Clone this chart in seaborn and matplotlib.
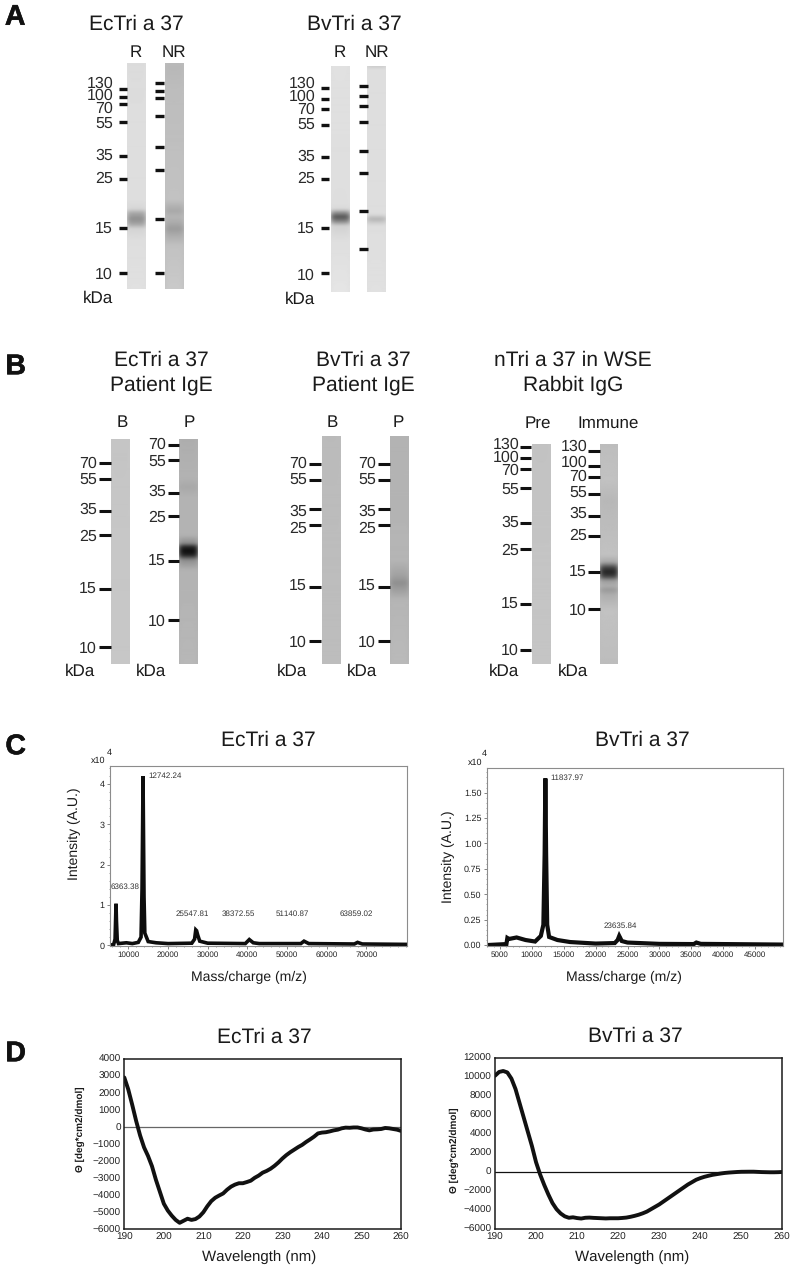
import numpy as np
import pandas as pd
import seaborn as sns
import matplotlib
matplotlib.use('Agg')
import matplotlib.pyplot as plt
import matplotlib.patheffects as pe
from matplotlib.ticker import MultipleLocator

sns.set_theme(style='white')
plt.rcParams['font.family'] = ['Liberation Sans', 'DejaVu Sans']
plt.rcParams['text.hinting'] = 'no_hinting'
plt.rcParams['text.hinting_factor'] = 1

W, H = 794, 1268

# molecular weight labels
kda_long = ['130', '100', '70', '55', '35', '25', '15', '10']
kda_short = ['70', '55', '35', '25', '15', '10']

# ladder rows (image rows)
a1_r_marks = [88.7, 97.3, 104, 122, 155.7, 178.7, 228.3, 273]
a1_r_text = [83.3, 96, 108.7, 123.3, 155.7, 178.3, 228.3, 274.3]
a1_nr_marks = [82.7, 91.3, 98, 116, 147, 170, 219.3, 273]
a2_r_marks = [88, 98.7, 108.7, 125.3, 157, 179, 227.7, 273.3]
a2_r_text = [84, 96.7, 109.3, 124.7, 157, 179, 228.7, 275.3]
a2_nr_marks = [85.7, 96, 106, 121.7, 151, 172.7, 210.7, 248.7]

b1_marks = [463.3, 478.7, 511.3, 535.3, 589.3, 647]
b1_text = [464, 480, 510, 536.7, 588.7, 648.3]
p1_marks = [445.3, 460.3, 493, 516, 561.3, 620]
p1_text = [444.7, 461.7, 491.7, 517.3, 560.3, 621.7]
b2_marks = [464, 479.7, 509, 525.3, 586.7, 641.3]
b2_text = [463.7, 479.3, 511.7, 528.3, 585.7, 642.7]
pre_marks = [446.7, 458, 468.7, 488.3, 523.3, 549, 604, 650]
pre_text = [444.6, 457.6, 470.7, 490, 522.3, 550.7, 604, 651]
imm_marks = [450.7, 465.7, 477.3, 493.7, 515.7, 536, 572, 609]
imm_text = [446.7, 462.3, 476.7, 492.3, 514, 535.7, 571.7, 610.7]

# lane density profiles: row, grey level
a1_r_rows = [63, 120, 200, 209, 213, 219, 224, 229, 240, 289]
a1_r_grey = [.86, .87, .87, .84, .66, .56, .64, .83, .87, .88]
a1_nr_rows = [63, 67, 90, 200, 206, 211, 217, 223, 229, 236, 246, 289]
a1_nr_grey = [.73, .72, .74, .76, .70, .66, .71, .67, .61, .68, .76, .79]
a2_r_rows = [66, 204, 209, 213, 217, 221, 226, 240, 292]
a2_r_grey = [.88, .87, .85, .55, .33, .50, .82, .87, .90]
a2_nr_rows = [66, 69, 120, 214, 217, 219, 222, 226, 292]
a2_nr_grey = [.80, .87, .87, .87, .78, .70, .78, .87, .88]

b1_rows = [439, 550, 664]
b1_grey = [.77, .78, .78]
p1_rows = [439, 478, 487, 496, 535, 543, 547, 551, 555, 560, 570, 664]
p1_grey = [.68, .70, .66, .70, .70, .55, .14, .05, .14, .55, .70, .72]
b2_rows = [436, 550, 664]
b2_grey = [.73, .74, .74]
p2_rows = [436, 560, 570, 576, 583, 590, 600, 664]
p2_grey = [.70, .71, .66, .63, .56, .62, .71, .73]
pre_rows = [444, 550, 664]
pre_grey = [.76, .77, .77]
imm_rows = [444, 480, 500, 555, 562, 568, 572, 576, 581, 586, 590, 595, 610, 664]
imm_grey = [.74, .76, .72, .76, .66, .24, .14, .24, .62, .68, .60, .68, .76, .74]

# mass spectra
ec_mz = [5400, 6300, 6650, 6800, 6890, 7000, 7200, 7500, 9500, 11000, 12500, 13200, 13450, 13600, 13700,
         13800, 13950, 14150, 15000, 17000, 20000, 26000, 26700, 27000, 27200, 27500, 28000, 30000, 39500,
         40500, 41500, 43000, 53500, 54300, 55500, 67000, 67800, 69000, 80300]
ec_int = [0.0, 0.02, 0.15, 0.7, 1.03, 0.6, 0.12, 0.04, 0.06, 0.04, 0.07, 0.2, 1.4, 3.0, 4.2,
          3.0, 1.2, 0.3, 0.09, 0.06, 0.04, 0.05, 0.15, 0.38, 0.36, 0.25, 0.1, 0.05, 0.04,
          0.14, 0.06, 0.04, 0.04, 0.1, 0.04, 0.03, 0.07, 0.03, 0.02]
bv_mz = [2900, 6000, 6150, 6400, 7600, 9000, 10500, 11400, 11800, 12000, 12111, 12230, 12400, 12700, 14000,
         16000, 20000, 23000, 23450, 23700, 24100, 25000, 30000, 35400, 35800, 36500, 49400]
bv_int = [0.0, 0.01, 0.07, 0.06, 0.075, 0.05, 0.035, 0.09, 0.2, 0.9, 1.64, 0.9, 0.2, 0.08, 0.05,
          0.03, 0.015, 0.02, 0.05, 0.09, 0.04, 0.025, 0.012, 0.01, 0.025, 0.012, 0.005]

# CD spectra, one value per nm from 190 to 260
wavelength = list(range(190, 261))
ec_cd = [2900, 2200, 1300, 350, -500, -1200, -1700, -2300, -3100, -3800, -4500, -4900, -5200, -5450, -5620,
         -5500, -5380, -5450, -5400, -5250, -5000, -4650, -4350, -4150, -4020, -3900, -3680, -3500, -3380, -3300,
         -3300, -3230, -3150, -2980, -2850, -2680, -2580, -2450, -2280, -2080, -1850, -1650, -1480, -1330, -1180,
         -1050, -880, -730, -570, -380, -330, -310, -260, -200, -160, -80, -40, -50, -30, -30,
         -80, -150, -200, -150, -140, -120, -60, -80, -120, -160, -230]
bv_cd = [10100, 10500, 10600, 10450, 9800, 8700, 7200, 5700, 4200, 2700, 1000, -300, -1400, -2400, -3300,
         -3950, -4400, -4700, -4850, -4800, -4880, -4930, -4850, -4830, -4860, -4880, -4900, -4920, -4900, -4900,
         -4900, -4870, -4830, -4750, -4650, -4530, -4380, -4200, -3950, -3700, -3450, -3150, -2850, -2550, -2250,
         -1950, -1650, -1350, -1100, -850, -680, -540, -430, -330, -260, -190, -130, -90, -60, -30,
         -10, -5, 0, 0, -20, -40, -50, -60, -60, -50, -30]

fig = plt.figure(figsize=(W / 100, H / 100), dpi=100, facecolor='white')

# whole page axes in image pixels for the blots and loose text
page = fig.add_axes([0, 0, 1, 1], zorder=0)
page.set_xlim(0, W)
page.set_ylim(H, 0)
page.autoscale(False)
page.axis('off')


def label(x, y, s, size=11.8, ha='center', **kw):
    kw.setdefault('color', '#1a1a1a')
    page.text(x, y, s, fontsize=size, ha=ha, va='center', **kw)


def lane(x0, x1, rows, grey):
    # resample the profile to image rows, soften it like a scanned blot,
    # and let the bands thin out towards the lane sides
    steps = np.arange(rows[0], rows[-1] + 1)
    column = np.interp(steps, rows, grey)
    kernel = np.array([1, 2, 3, 2, 1]) / 9
    column = np.convolve(np.pad(column, 2, mode='edge'), kernel, mode='valid')
    base = np.median(column)
    fade = 1 - 0.45 * np.abs(np.linspace(-1, 1, 19)) ** 4
    shade = base + np.outer(column - base, fade)
    page.imshow(shade, extent=(x0, x1, rows[-1], rows[0]), cmap='gray', vmin=0, vmax=1,
                aspect='auto', interpolation='bilinear')


def ladder(x0, x1, marks, lw=2.2):
    page.hlines(marks, x0, x1, color='#111111', linewidth=lw)


def numbers(x, rows, names):
    for r, n in zip(rows, names):
        label(x, r, n, ha='right', color='#2a2a2a')


# panel letters
for letter, x, y in [('A', 15, 17.5), ('B', 15.5, 367), ('C', 15.5, 747), ('D', 15.5, 1054)]:
    page.text(x, y, letter, fontsize=20.5, fontweight='bold', ha='center', va='center', color='#111111',
              path_effects=[pe.withStroke(linewidth=0.4, foreground='#111111')])

# panel A
label(136, 24, 'EcTri a 37', 15)
label(354, 24, 'BvTri a 37', 15)
label(136, 53, 'R', 12.2)
label(174, 53, 'NR', 12.2)
label(340, 53, 'R', 12.2)
label(377, 53, 'NR', 12.2)
lane(127, 146, a1_r_rows, a1_r_grey)
lane(165, 184, a1_nr_rows, a1_nr_grey)
lane(331, 350, a2_r_rows, a2_r_grey)
lane(367, 386, a2_nr_rows, a2_nr_grey)
ladder(118.7, 126.7, a1_r_marks, 2.4)
ladder(155, 164, a1_nr_marks, 2.4)
ladder(321, 329, a2_r_marks, 2.4)
ladder(359, 367.5, a2_nr_marks, 2.4)
numbers(113, a1_r_text, kda_long)
numbers(315, a2_r_text, kda_long)
label(113, 298, 'kDa', 12.2, ha='right')
label(315, 299, 'kDa', 12.2, ha='right')

# panel B
for x, lines in [(161, ['EcTri a 37', 'Patient IgE']), (363, ['BvTri a 37', 'Patient IgE']),
                 (573, ['nTri a 37 in WSE', 'Rabbit IgG'])]:
    label(x, 360, lines[0], 15)
    label(x, 385, lines[1], 15)
for x, s in [(122, 'B'), (189, 'P'), (332, 'B'), (398, 'P'), (538, 'Pre'), (608, 'Immune')]:
    label(x, 423, s, 12.2)
lane(111, 130, b1_rows, b1_grey)
lane(179, 198, p1_rows, p1_grey)
lane(322, 341, b2_rows, b2_grey)
lane(390, 409, p2_rows, p2_grey)
lane(531.7, 550, pre_rows, pre_grey)
lane(600, 618, imm_rows, imm_grey)
ladder(99, 111, b1_marks)
ladder(168, 179, p1_marks)
ladder(309, 321, b2_marks)
ladder(378, 390, b2_marks)
ladder(520, 531, pre_marks)
ladder(588, 599.5, imm_marks)
numbers(97, b1_text, kda_short)
numbers(166, p1_text, kda_short)
numbers(307, b2_text, kda_short)
numbers(376, b2_text, kda_short)
numbers(519, pre_text, kda_long)
numbers(587, imm_text, kda_long)
for x in [95, 166, 307, 377, 519, 588]:
    label(x, 671, 'kDa', 12.2, ha='right')


def plot_axes(x0, y0, x1, y1):
    return fig.add_axes([x0 / W, 1 - y1 / H, (x1 - x0) / W, (y1 - y0) / H], zorder=2, facecolor='none')


def spectrum(box, mz, intensity, xlim, ylim, xticks, yticks, ylabels, minor_x, minor_y, lw):
    ax = plot_axes(*box)
    sns.lineplot(x=mz, y=intensity, ax=ax, color='#0d0d0d', linewidth=lw, estimator=None, sort=False,
                 solid_joinstyle='miter')
    ax.set_xlim(*xlim)
    ax.set_ylim(*ylim)
    ax.set_xticks(xticks)
    ax.set_xticklabels([str(t) for t in xticks], fontsize=6, color='#222222')
    ax.set_yticks(yticks)
    ax.set_yticklabels(ylabels, fontsize=6.4, color='#222222')
    ax.xaxis.set_minor_locator(MultipleLocator(minor_x))
    ax.yaxis.set_minor_locator(MultipleLocator(minor_y))
    ax.tick_params(which='major', bottom=True, left=True, length=2, width=0.5, color='#555555', pad=1.8)
    ax.tick_params(which='minor', bottom=True, left=True, length=1, width=0.4, color='#555555')
    ax.set_xlabel('')
    ax.set_ylabel('')
    for s in ax.spines.values():
        s.set_color('#8c8c8c')
        s.set_linewidth(0.8)
    return ax


# panel C
label(268, 740, 'EcTri a 37', 15)
label(642, 740, 'BvTri a 37', 15)
ec_ticks = [10000, 20000, 30000, 40000, 50000, 60000, 70000]
bv_ticks = [5000, 10000, 15000, 20000, 25000, 30000, 35000, 40000, 45000]
spectrum((110, 765.7, 407, 946), ec_mz, ec_int, (5370, 80270), (-0.02, 4.46), ec_ticks,
         [0, 1, 2, 3, 4], ['0', '1', '2', '3', '4'], 2000, 0.2, 2.6)
spectrum((486.7, 768.3, 783.3, 945.7), bv_mz, bv_int, (2908, 49444), (-0.006, 1.74), bv_ticks,
         [0, .25, .5, .75, 1, 1.25, 1.5], ['0.00', '0.25', '0.50', '0.75', '1.00', '1.25', '1.50'], 1000, 0.05, 3)

for x, y, s, ha in [(148, 775.5, '12742.24', 'left'), (125, 886.7, '6363.38', 'center'),
                    (192, 913.7, '25547.81', 'center'), (238.7, 914, '38372.55', 'center'),
                    (292.7, 914, '51140.87', 'center'), (356.7, 914, '63859.02', 'center'),
                    (550.7, 778, '11837.97', 'left'), (620, 926, '23635.84', 'center')]:
    label(x, y, s, 6, ha=ha, color='#333333')
label(105, 760.5, 'x10', 6.4, ha='right')
label(109, 753, '4', 6.7)
label(482.7, 762.5, 'x10', 6.4, ha='right')
label(484.5, 754, '4', 6.7)
label(74, 834, 'Intensity (A.U.)', 9.9, rotation=90)
label(448, 857, 'Intensity (A.U.)', 9.9, rotation=90)
label(249, 977, 'Mass/charge (m/z)', 9.9)
label(624, 977, 'Mass/charge (m/z)', 9.9)


def cd_plot(box, values, yticks, zero_colour):
    ax = plot_axes(*box)
    ax.axhline(0, color=zero_colour, linewidth=0.9, zorder=1)
    sns.lineplot(x=wavelength, y=values, ax=ax, color='#111111', linewidth=2.8, estimator=None, clip_on=True)
    ax.set_xlim(190, 260)
    ax.set_ylim(yticks[0], yticks[-1])
    ax.set_xticks(range(190, 261, 10))
    ax.set_yticks(yticks)
    ax.tick_params(labelsize=7, labelcolor='#222222', length=0, pad=2.5)
    ax.set_xlabel('')
    ax.set_ylabel('')
    for s in ax.spines.values():
        s.set_color('#1a1a1a')
        s.set_linewidth(1.1)
    return ax


# panel D
label(264, 1037, 'EcTri a 37', 15)
label(635, 1036, 'BvTri a 37', 15)
cd_plot((124.3, 1058.7, 401, 1229.3), ec_cd, list(range(-6000, 4001, 1000)), '#666666')
cd_plot((495, 1057.7, 782.3, 1228.7), bv_cd, list(range(-6000, 12001, 2000)), '#111111')
label(80, 1129, 'Θ [deg*cm2/dmol]', 7, rotation=90, fontweight='bold')
label(454, 1150.5, 'Θ [deg*cm2/dmol]', 7, rotation=90, fontweight='bold')
label(259, 1257, 'Wavelength (nm)', 10.5)
label(631.7, 1257, 'Wavelength (nm)', 10.5)

fig.savefig('out.png', dpi=100)
